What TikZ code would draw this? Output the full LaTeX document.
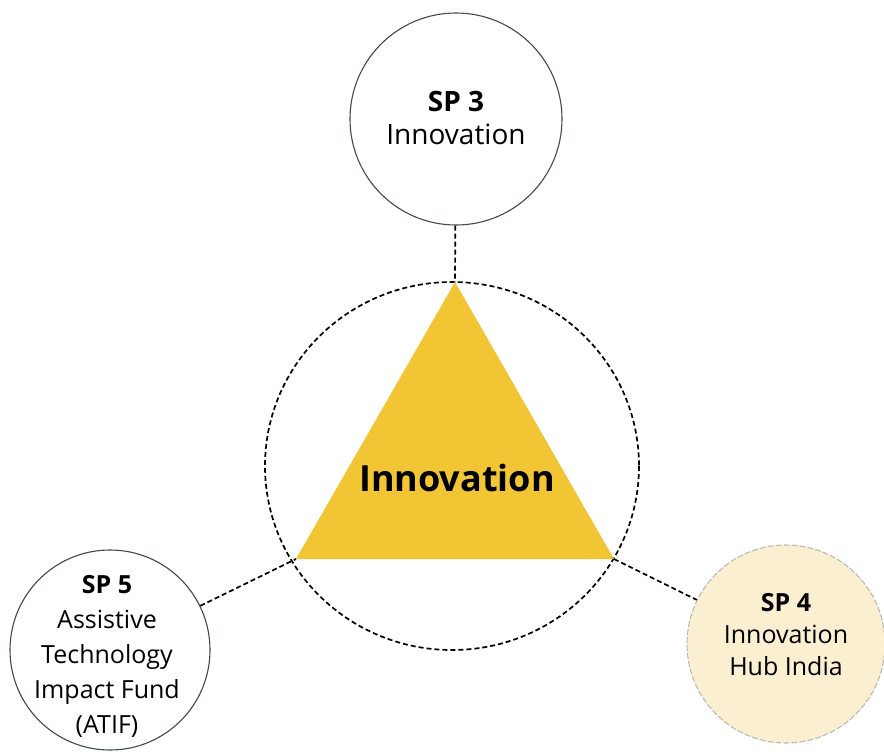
\documentclass[tikz,border=0pt]{standalone}
\usepackage{fontspec}
\setmainfont{Open Sans}
\definecolor{triyellow}{HTML}{F2C535}
\definecolor{hubfill}{HTML}{FAEFD0}
\definecolor{ringline}{HTML}{3E4757}
\definecolor{hubline}{HTML}{BDBAB2}
\begin{document}
\begin{tikzpicture}[x=1pt,y=-1pt,
  spcircle/.style={circle,draw=ringline,line width=1.1pt,inner sep=0pt},
  sptext/.style={align=center,text=black,inner sep=0pt},
  conn/.style={draw=black,line width=1.7pt,dash pattern=on 5pt off 3pt},
]
\useasboundingbox (0,0) rectangle (884,752);
% central dashed ring
\draw[conn] (452,466) ellipse [x radius=187, y radius=184];
% triangle
\coordinate (A) at (455,282);
\coordinate (B) at (296,559);
\coordinate (C) at (614,559);
\fill[triyellow] (A) -- (B) -- (C) -- cycle;
\node (core) at (457,478) {\fontsize{36}{40}\selectfont\bfseries Innovation};
% satellite circles
\node[spcircle,minimum size=212pt] (sp3) at (456,119) {};
\node[sptext,font=\fontsize{28}{33}\selectfont] (sp3t) at (456,118)
  {\textbf{SP 3}\\Innovation};
\node[spcircle,minimum size=200pt] (sp5) at (110,650) {};
\node[sptext,font=\fontsize{25}{35}\selectfont] (sp5t) at (107,656)
  {\textbf{SP 5}\\Assistive\\Technology\\Impact Fund\\(ATIF)};
\node[circle,fill=hubfill,draw=hubline,line width=1.1pt,dash pattern=on 6pt off 2pt,
  inner sep=0pt,minimum size=198pt] (sp4) at (786,644) {};
\node[sptext,font=\fontsize{25}{32}\selectfont] (sp4t) at (786,635)
  {\textbf{SP 4}\\Innovation\\Hub India};
% connectors
\draw[conn] (sp3) -- (A);
\draw[conn] (sp5) -- (B);
\draw[conn] (C) -- (sp4);
\end{tikzpicture}
\end{document}
